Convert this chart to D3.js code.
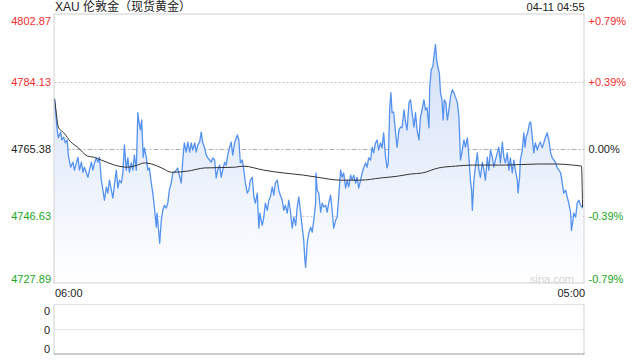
<!DOCTYPE html>
<html><head><meta charset="utf-8">
<script src="https://cdn.jsdelivr.net/npm/d3@7"></script>
<style>
html,body{margin:0;padding:0;background:#fff;}
svg{display:block;font-family:"Liberation Sans",Arial,"Noto Sans CJK SC",sans-serif;}
</style></head>
<body>
<svg id="c" width="640" height="360"></svg>
<script>
// ---- data (minutes since 06:00, price) ----
const title = "XAU 伦敦金（现货黄金）";
const stamp = "04-11 04:55";
const prevClose = 4765.38;
const priceTicks = [4727.89, 4746.63, 4765.38, 4784.13, 4802.87];
const pctTicks = ["-0.79%", "-0.39%", "0.00%", "+0.39%", "+0.79%"];
const timeTicks = [0, 1380];
const timeLabels = ["06:00", "05:00"];
const volTicks = [0, 1, 2];
const volLabels = ["0", "0", "0"];

const times = [0,7,10,16,19,24,28,33,36,42,48,52,57,61,65,70,74,78,83,87,91,96,100,104,109,113,117,122,126,130,135,139,143,148,152,156,161,165,169,174,178,182,187,191,195,200,204,208,213,217,219,224,227,231,234,239,243,247,252,256,260,265,267,271,274,278,282,286,291,295,299,304,308,312,317,321,325,330,334,338,343,347,352,356,360,365,369,373,378,382,386,391,395,399,404,408,412,417,421,425,430,434,438,443,447,451,456,460,464,469,
476,480,484,489,493,497,502,506,510,515,519,523,528,532,535,538,541,545,549,554,558,562,567,571,575,580,584,588,593,597,601,606,610,614,619,623,628,632,636,641,645,649,652,654,658,662,667,671,675,680,681,684,688,693,697,701,706,710,714,719,723,727,732,736,740,745,749,753,758,762,766,771,775,779,784,788,792,797,801,805,810,814,818,823,827,831,836,840,844,849,853,857,862,866,869,873,876,879,883,888,892,897,901,905,910,914,918,923,927,
931,936,940,944,949,953,957,962,966,970,975,977,981,985,988,992,995,998,1002,1005,1009,1012,1015,1019,1023,1027,1031,1036,1040,1049,1053,1055,1057,1062,1066,1070,1075,1079,1083,1086,1088,1092,1096,1101,1105,1109,1114,1118,1122,1127,1131,1135,1140,1144,1148,1153,1157,1161,1166,1170,1174,1179,1183,1187,1192,1196,1200,1205,1207,1211,1213,1218,1222,1225,1228,1232,1237,1240,1244,1248,1252,1257,1261,1265,1270,1274,1278,1283,1287,1292,1296,1300,1305,1309,1313,1318,1322,1326,1331,1335,1339,1344,1346,1350,1352,1357,1361,1365,1370,1375];

const prices = [4779.4,4770.7,4768.5,4770.1,4767.9,4768.7,4767.1,4767.9,4763.7,4760.3,4761.7,4759.5,4761.5,4763.1,4759.5,4761.7,4758.9,4760.3,4758.7,4757.5,4759.5,4761.7,4759.5,4761.5,4762.9,4761.7,4763.1,4756.7,4753.9,4751.1,4754.8,4753.1,4756.7,4753.9,4751.7,4755.3,4759.5,4754.5,4756.7,4755.9,4758.7,4766.5,4759.5,4762.9,4758.9,4761.5,4759.5,4763.7,4759.5,4775.5,4773.5,4770.7,4773.5,4763.1,4765.7,4763.1,4759.5,4760.1,4755.9,4753.1,4749.2,4743.6,4747.5,4742.7,4739.1,4745.5,4748.3,4749.7,4748.9,4750.3,4753.9,4755.9,4758.7,4758.9,4759.5,4760.1,4758.1,4755.9,4762.3,4767.1,4764.5,4767.3,4764.5,4767.1,4765.1,4767.1,4764.5,4766.5,4767.3,4770.1,4767.1,4765.7,4763.7,4762.9,4762.3,4761.7,4762.9,4762.3,4757.3,4759.5,4760.9,4757.5,4759.5,4761.7,4760.9,4763.7,4765.9,4767.3,4763.7,4767.1,
4769.3,4767.9,4761.5,4762.3,4759.5,4755.9,4753.1,4753.9,4756.7,4757.5,4752.0,4750.3,4753.1,4743.3,4747.5,4745.5,4744.1,4746.4,4750.3,4748.3,4751.1,4752.0,4754.8,4752.5,4755.9,4756.7,4753.9,4752.5,4751.1,4748.3,4749.7,4747.5,4751.1,4748.3,4743.3,4746.4,4744.1,4749.2,4752.0,4747.5,4743.6,4739.9,4734.3,4732.4,4739.1,4741.9,4743.6,4742.2,4745.5,4750.3,4758.7,4753.9,4753.1,4747.8,4750.3,4749.2,4749.7,4747.8,4750.3,4752.5,4748.3,4743.3,4745.5,4746.4,4752.0,4759.5,4757.5,4758.7,4754.5,4756.7,4754.8,4758.1,4756.7,4758.1,4755.9,4757.5,4754.5,4756.7,4758.7,4760.1,4761.5,4760.3,4762.9,4762.3,4765.9,4764.3,4767.1,4767.9,4765.1,4767.1,4765.7,4769.9,4763.1,4760.1,4761.5,4777.1,4781.1,4775.5,4775.7,4769.9,4765.9,4770.7,4771.5,4771.3,4776.3,4772.9,4770.7,4778.3,4779.1,
4775.5,4771.5,4775.5,4770.7,4767.9,4774.3,4776.3,4779.1,4776.3,4776.9,4771.3,4782.7,4787.5,4788.3,4791.1,4794.5,4790.3,4788.3,4786.6,4781.1,4779.1,4773.5,4779.1,4778.3,4773.5,4776.3,4779.9,4781.9,4781.1,4778.3,4774.3,4768.7,4762.3,4765.1,4767.9,4765.9,4768.5,4763.1,4756.7,4753.9,4748.3,4756.7,4760.3,4764.3,4759.5,4757.5,4761.7,4759.5,4756.7,4763.1,4759.5,4765.1,4763.1,4760.3,4762.3,4764.3,4765.9,4761.5,4767.3,4763.1,4761.5,4764.3,4759.5,4762.9,4758.7,4762.3,4759.5,4756.7,4753.1,4757.5,4762.3,4765.1,4769.9,4765.9,4768.7,4769.9,4772.7,4772.9,4768.7,4764.3,4767.1,4765.1,4766.5,4767.3,4765.7,4767.1,4768.5,4769.9,4767.9,4764.3,4762.9,4762.3,4761.5,4760.1,4759.5,4758.7,4755.9,4753.1,4753.9,4752.0,4750.3,4747.5,4742.7,4745.5,4747.5,4746.4,4750.3,4751.1,4749.7,4748.9];

const avgTimes = [0,3,10,25,42,60,86,102,122,156,190,216,234,253,279,305,346,391,469,492,544,596,648,685,745,797,849,893,927,958,1000,1044,1088,1174,1260,1305,1349,1372,1375];
const avgPrices = [4779.4,4776.9,4771.5,4769.8,4767.4,4765.9,4763.4,4763.1,4762.3,4760.9,4760.3,4760.9,4761.5,4761.2,4760.1,4758.9,4759.2,4760.1,4760.3,4760.6,4759.5,4758.7,4758.1,4757.5,4756.7,4756.7,4757.3,4757.8,4758.4,4758.7,4760.1,4760.6,4760.9,4760.9,4761.2,4761.2,4760.9,4760.6,4749.2];

// ---- drawing ----
const svg = d3.select("#c");
const L = 54.5, R = 584.5, T = 14.5, B = 283.5;
const x = d3.scaleLinear().domain([0, 1380]).range([L, R]);
const y = d3.scaleLinear().domain([priceTicks[0], priceTicks[4]]).range([B, T]);
const red = "#f22d2d", green = "#22a622", dark = "#222";
const col = v => Math.abs(v - prevClose) < 0.005 ? dark : (v > prevClose ? red : green);

const defs = svg.append("defs");
const g = defs.append("linearGradient").attr("id", "fill")
  .attr("gradientUnits", "userSpaceOnUse").attr("x1", 0).attr("x2", 0).attr("y1", T).attr("y2", B);
g.append("stop").attr("offset", 0).attr("stop-color", "#cddcf6");
g.append("stop").attr("offset", 1).attr("stop-color", "#ffffff");

// gridlines
svg.append("g").selectAll("line").data([priceTicks[1], priceTicks[3]]).join("line")
  .attr("x1", L).attr("x2", R).attr("y1", d => Math.round(y(d)) + 0.5).attr("y2", d => Math.round(y(d)) + 0.5)
  .attr("stroke", "#c8c8c8").attr("stroke-dasharray", "2,2");
svg.append("line").attr("x1", L).attr("x2", R)
  .attr("y1", Math.round(y(prevClose)) + 0.5).attr("y2", Math.round(y(prevClose)) + 0.5)
  .attr("stroke", "#b0b0b0").attr("stroke-dasharray", "5,2,2,2");

const pts = times.map((t, i) => [t, prices[i]]);
svg.append("path").datum(pts)
  .attr("d", d3.area().x(d => x(d[0])).y0(B).y1(d => y(d[1])))
  .attr("fill", "url(#fill)");
svg.append("path").datum(pts)
  .attr("d", d3.line().x(d => x(d[0])).y(d => y(d[1])))
  .attr("fill", "none").attr("stroke", "#5592f0").attr("stroke-width", 1.3).attr("stroke-linejoin", "round");

const apts = avgTimes.map((t, i) => [t, avgPrices[i]]);
svg.append("path").datum(apts)
  .attr("d", d3.line().curve(d3.curveMonotoneX).x(d => x(d[0])).y(d => y(d[1])))
  .attr("fill", "none").attr("stroke", "#333").attr("stroke-width", 1);

// frame
svg.append("rect").attr("x", L - 0.5).attr("y", T - 0.5).attr("width", R - L).attr("height", B - T)
  .attr("fill", "none").attr("stroke", "#cfcfcf");

svg.append("text").attr("x", 552).attr("y", 283).attr("text-anchor", "middle")
  .attr("font-size", 11).attr("fill", "#d4d4d4").text("sina.com");

// price axis (left)
const ax = svg.append("g").attr("transform", `translate(${L - 0.5},0)`)
  .call(d3.axisLeft(y).tickValues(priceTicks).tickSize(0).tickPadding(3).tickFormat(d3.format(".2f")));
ax.select(".domain").remove();
ax.selectAll("text").attr("font-size", 11).attr("font-family", null)
  .attr("fill", d => col(d))
  .attr("dy", (d, i) => i === 0 ? "-0.05em" : (i === 4 ? "0.9em" : "0.32em"));

// percent axis (right)
const ar = svg.append("g").attr("transform", `translate(${R},0)`)
  .call(d3.axisRight(y).tickValues(priceTicks).tickSize(0).tickPadding(4).tickFormat((d, i) => pctTicks[i]));
ar.select(".domain").remove();
ar.selectAll("text").attr("font-size", 11).attr("font-family", null)
  .attr("fill", d => col(d))
  .attr("dy", (d, i) => i === 0 ? "-0.05em" : (i === 4 ? "0.9em" : "0.32em"));

// time axis
const at = svg.append("g").attr("transform", `translate(0,${B})`)
  .call(d3.axisBottom(x).tickValues(timeTicks).tickSize(0).tickPadding(6).tickFormat((d, i) => timeLabels[i]));
at.select(".domain").remove();
at.selectAll("text").attr("font-size", 11).attr("font-family", null).attr("fill", "#222")
  .attr("text-anchor", (d, i) => i === 0 ? "start" : "end");

// title + stamp
svg.append("text").attr("x", L + 0.5).attr("y", 11).attr("font-size", 12).attr("fill", "#222").text(title);
svg.append("text").attr("x", R).attr("y", 11).attr("text-anchor", "end").attr("font-size", 11).attr("fill", "#222").text(stamp);

// volume panel
const VT = 304.5, VB = 354.5;
const yv = d3.scaleLinear().domain([0, 2]).range([VB, VT]);
svg.append("g").selectAll("line").data([1, 2]).join("line")
  .attr("x1", L).attr("x2", R).attr("y1", d => yv(d)).attr("y2", d => yv(d))
  .attr("stroke", "#c8c8c8").attr("stroke-dasharray", "1,1");
svg.append("line").attr("x1", L - 0.5).attr("x2", L - 0.5).attr("y1", VT).attr("y2", VB).attr("stroke", "#cfcfcf");
svg.append("line").attr("x1", R - 0.5).attr("x2", R - 0.5).attr("y1", VT).attr("y2", VB).attr("stroke", "#cfcfcf");
svg.append("line").attr("x1", L - 0.5).attr("x2", R).attr("y1", VB - 0.5).attr("y2", VB - 0.5).attr("stroke", "#999");
const av = svg.append("g").attr("transform", `translate(${L - 0.5},0)`)
  .call(d3.axisLeft(yv).tickValues(volTicks).tickSize(0).tickPadding(4).tickFormat((d, i) => volLabels[i]));
av.select(".domain").remove();
av.selectAll("text").attr("font-size", 11).attr("font-family", null).attr("fill", "#222")
  .attr("dy", (d, i) => i === 0 ? "-0.2em" : (i === 2 ? "0.9em" : "0.32em"));
</script>
</body></html>
